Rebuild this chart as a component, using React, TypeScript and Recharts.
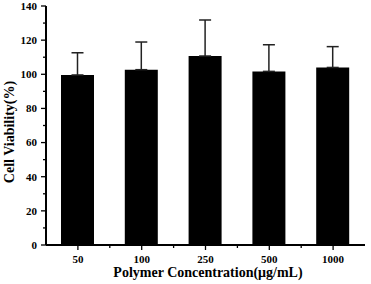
import { BarChart, Bar, XAxis, YAxis, ErrorBar } from "recharts";

const concentrations = ["50", "100", "250", "500", "1000"];
const viability = [99.6, 102.7, 110.7, 101.7, 104.0];
const viabilitySd = [13.0, 16.2, 21.1, 15.6, 12.2];
const yTicks = [0, 10, 20, 30, 40, 50, 60, 70, 80, 90, 100, 110, 120, 130, 140];

const W = 371;
const H = 284;
const M = { top: 6, right: 6, left: 0, bottom: 0 };
const Y_W = 46;
const X_H = 39;
const FONT = "'Liberation Serif', 'Times New Roman', serif";

// only the upper half of each error bar is shown in the figure
const data = concentrations.map((c, i) => ({
  name: c,
  value: viability[i],
  err: [0, viabilitySd[i]],
}));

const halfBand = (W - M.left - M.right - Y_W) / concentrations.length / 2;

function YTick(props: any) {
  const { x, y, payload } = props;
  const major = payload.value % 20 === 0;
  const edge = x + 4 + 5; // axis line position
  return (
    <g>
      <line x1={edge - (major ? 5 : 3)} x2={edge} y1={y} y2={y} stroke="#000" strokeWidth={1.3} />
      {major && (
        <text x={x} y={y} dy="0.35em" textAnchor="end" fontFamily={FONT} fontWeight="bold" fontSize={11} fill="#000">
          {payload.value}
        </text>
      )}
    </g>
  );
}

function XTick(props: any) {
  const { x, y, payload, index } = props;
  const edge = y - 5 - 5;
  return (
    <g>
      <line x1={x} x2={x} y1={edge} y2={edge + 5} stroke="#000" strokeWidth={1.3} />
      {index < concentrations.length - 1 && (
        <line x1={x + halfBand} x2={x + halfBand} y1={edge} y2={edge + 3} stroke="#000" strokeWidth={1.3} />
      )}
      <text x={x} y={y} dy="0.71em" textAnchor="middle" fontFamily={FONT} fontWeight="bold" fontSize={11} fill="#000">
        {payload.value}
      </text>
    </g>
  );
}

export default function App() {
  return (
    <div style={{ position: "absolute", left: 0, top: 0, background: "#fff" }}>
      <BarChart width={W} height={H} data={data} margin={M} barSize={33}>
        <XAxis
          dataKey="name"
          height={X_H}
          axisLine={{ stroke: "#000", strokeWidth: 2 }}
          tickLine={false}
          tickSize={5}
          tickMargin={5}
          tick={<XTick />}
          interval={0}
          label={{
            content: () => (
              <text x={208} y={277} textAnchor="middle" fontFamily={FONT} fontWeight="bold" fontSize={14} fill="#000">
                Polymer Concentration(μg/mL)
              </text>
            ),
          }}
        />
        <XAxis
          xAxisId="top"
          dataKey="name"
          orientation="top"
          height={0}
          tick={false}
          tickLine={false}
          axisLine={{ stroke: "#555", strokeWidth: 1.5 }}
        />
        <YAxis
          domain={[0, 140]}
          ticks={yTicks}
          interval={0}
          width={Y_W}
          axisLine={{ stroke: "#000", strokeWidth: 2 }}
          tickLine={false}
          tickSize={5}
          tickMargin={4}
          tick={<YTick />}
          label={{
            content: () => (
              <text
                x={14}
                y={132}
                transform="rotate(-90 14 132)"
                textAnchor="middle"
                fontFamily={FONT}
                fontWeight="bold"
                fontSize={14}
                fill="#000"
              >
                Cell Viability(%)
              </text>
            ),
          }}
        />
        <YAxis
          yAxisId="right"
          orientation="right"
          domain={[0, 140]}
          width={0}
          tick={false}
          tickLine={false}
          axisLine={{ stroke: "#555", strokeWidth: 1.5 }}
        />
        <Bar dataKey="value" fill="#000" isAnimationActive={false}>
          <ErrorBar dataKey="err" width={6} stroke="#222" strokeWidth={1.5} direction="y" />
        </Bar>
      </BarChart>
    </div>
  );
}
